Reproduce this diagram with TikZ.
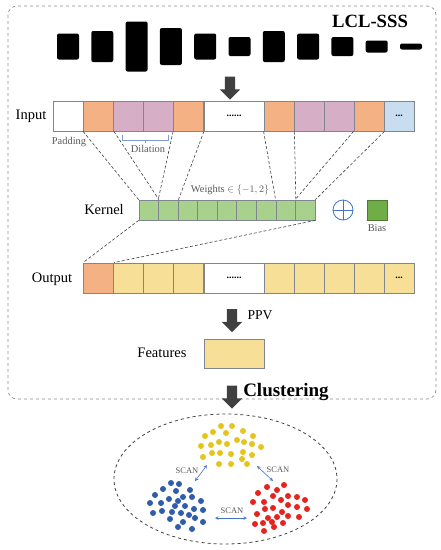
\documentclass[tikz,border=0pt]{standalone}
\usepackage{fontspec}
\setmainfont{Liberation Serif}
\usepackage{amsmath, amssymb}
\usepackage{xcolor}
\usepackage{tikz}
\usetikzlibrary{shapes, arrows, positioning, calc}

\definecolor{inorange}{HTML}{F4B183}
\definecolor{inpink}{HTML}{D6AEC6}
\definecolor{inblue}{HTML}{C9DDF0}
\definecolor{kgreen}{HTML}{A9D18E}
\definecolor{biasgreen}{HTML}{70AD47}
\definecolor{outyellow}{HTML}{F8DF98}
\definecolor{cellline}{HTML}{7F8690}
\definecolor{arrowgray}{HTML}{404040}
\definecolor{labelgray}{HTML}{595959}
\definecolor{scanblue}{HTML}{4472C4}
\definecolor{ydot}{HTML}{E5C51C}
\definecolor{bdot}{HTML}{2F5DAA}
\definecolor{rdot}{HTML}{E52420}

\begin{document}
\begin{tikzpicture}[x=1pt,y=-1pt,>=stealth,
            cell/.style={draw=cellline, line width=0.8pt, inner sep=0pt, minimum width=30, minimum height=30, font=\bfseries\fontsize{10}{12}\selectfont},
            kcell/.style={draw=cellline, line width=0.7pt, fill=kgreen, inner sep=0pt, minimum width=19.56, minimum height=20},
            bar/.style={fill=black, rounded corners=2pt, inner sep=0pt, minimum width=22},
            bigarrow/.style={single arrow, fill=arrowgray, inner sep=5pt, single arrow head extend=5pt, single arrow head indent=0pt, minimum height=23, rotate=-90},
            lab/.style={font=\fontsize{14.5}{17}\selectfont},
            small/.style={text=labelgray, font=\fontsize{10.4}{12}\selectfont},
            link/.style={densely dashed, draw=arrowgray, line width=0.6pt},
            scan/.style={<->, draw=scanblue, line width=0.6pt}]
            \useasboundingbox (0,0) rectangle (441,550);

            \draw[dashed, draw=labelgray!70, line width=0.7pt, rounded corners=9pt] (8,6) rectangle (436,399);

            \node[font=\bfseries\fontsize{18.7}{22}\selectfont] (title) at (370,21) {LCL-SSS};
            \foreach \h [count=\i] in {26,31,50,37,26,19,31,26,19,12,6}
                \node[bar, minimum height=\h] (b\i) at ({68+34.3*(\i-1)},46.5) {};

            \node[bigarrow] (arr1) at (230,85.5) {};

            \node[lab] (inlab) at (31,116) {Input};
            \node[cell] (in1) at (68,116) {};
            \node[cell, fill=inorange] (in2) at (98.5,116) {};
            \node[cell, fill=inpink] (in3) at (128.5,116) {};
            \node[cell, fill=inpink] (in4) at (158.5,116) {};
            \node[cell, fill=inorange] (in5) at (188.5,116) {};
            \node[cell, minimum width=60] (in6) at (234,116) {......};
            \node[cell, fill=inorange] (in7) at (279,116) {};
            \node[cell, fill=inpink] (in8) at (309,116) {};
            \node[cell, fill=inpink] (in9) at (339,116) {};
            \node[cell, fill=inorange] (in10) at (369,116) {};
            \node[cell, fill=inblue] (in11) at (399,116) {...};

            \node[small] (pad) at (69,142) {Padding};
            \draw[draw=scanblue!70, line width=0.7pt] (122,135) -- (122,140) -- (168,140) -- (168,135) (145,140) -- (145,143);
            \node[small] (dil) at (148,149) {Dilation};

            \node[lab] (klab) at (104,210) {Kernel};
            \foreach \i in {1,...,9}
                \node[kcell] (k\i) at ({139+19.56*(\i-0.5)},210) {};
            \node[small] (wts) at (230,190) {Weights $\in\{-1,2\}$};
            \node[circle, draw=scanblue, line width=0.8pt, minimum size=20, inner sep=0pt] (plus) at (343,210) {};
            \draw[draw=scanblue, line width=0.8pt] (plus.north) -- (plus.south) (plus.west) -- (plus.east);
            \node[draw=biasgreen!70!black, line width=0.6pt, fill=biasgreen, inner sep=0pt, minimum size=20] (bias) at (377,210) {};
            \node[small, below=1pt of bias] (biaslab) {Bias};

            \draw[link] (in2.south west) -- (k1.north west);
            \draw[link] (in2.south east) -- (k1.north east);
            \draw[link] (in5.south west) -- (k2.north west);
            \draw[link] (in5.south east) -- (k2.north east);
            \draw[link] (in7.south west) -- (k8.north west);
            \draw[link] (in7.south east) -- (k8.north east);
            \draw[link] (in10.south west) -- (k9.north west);
            \draw[link] (in10.south east) -- (k9.north east);

            \node[lab] (outlab) at (52,279) {Output};
            \node[cell, fill=inorange] (out1) at (98.5,278) {};
            \node[cell, fill=outyellow] (out2) at (128.5,278) {};
            \node[cell, fill=outyellow] (out3) at (158.5,278) {};
            \node[cell, fill=outyellow] (out4) at (188.5,278) {};
            \node[cell, minimum width=60] (out5) at (234,278) {......};
            \node[cell, fill=outyellow] (out6) at (279,278) {};
            \node[cell, fill=outyellow] (out7) at (309,278) {};
            \node[cell, fill=outyellow] (out8) at (339,278) {};
            \node[cell, fill=outyellow] (out9) at (369,278) {};
            \node[cell, fill=outyellow] (out10) at (399,278) {...};

            \draw[link] (k1.south west) -- (out1.north west);
            \draw[link] (k9.south east) -- (out1.north east);

            \node[bigarrow] (arr2) at (232,318) {};
            \node[font=\fontsize{13.6}{16}\selectfont] (ppv) at (260,315) {PPV};
            \node[lab] (featlab) at (162,353) {Features};
            \node[cell, fill=outyellow, minimum width=60, minimum height=29] (feat) at (234,353.5) {};

            \node[bigarrow] (arr3) at (232,394.5) {};
            \node[font=\bfseries\fontsize{19}{22}\selectfont] (clus) at (286,392) {Clustering};

            \draw[dashed, draw=arrowgray, line width=0.8pt] (225.5,479) ellipse (111.5 and 65);

            \foreach \x/\y in {221/426,232/426,205/436,213/432,226/433,243/431,253/436,201/446,211/445,219/442,227/444,237/440,244/442,252/444,261/447,203/457,212/453,220/453,231/454,243/452,252/455,219/464,231/464,242/459,247/464}
                \fill[ydot] (\x,\y) circle (3);
            \foreach \x/\y in {171/483,179/484,163/489,176/491,190/490,155/495,169/499,178/501,183/497,192/497,201/501,150/503,161/503,175/506,185/506,194/509,203/510,153/513,162/511,172/512,181/513,189/515,170/519,183/522,195/518,203/522,178/527,192/529}
                \fill[bdot] (\x,\y) circle (3);
            \foreach \x/\y in {267/487,277/490,284/485,258/493,273/496,288/496,297/497,253/502,264/502,281/500,305/500,288/505,297/507,307/509,265/509,273/508,282/512,257/514,268/518,277/517,288/516,299/517,255/524,263/523,272/522,283/523,274/527,264/531}
                \fill[rdot] (\x,\y) circle (3);

            \coordinate (sb) at (195,481);
            \coordinate (sy1) at (207,465);
            \coordinate (sy2) at (257,466);
            \coordinate (sr1) at (273,481);
            \coordinate (sb2) at (215,518);
            \coordinate (sr2) at (247,518);
            \draw[scan] (sb) -- (sy1);
            \draw[scan] (sy2) -- (sr1);
            \draw[scan] (sb2) -- (sr2);
            \node[text=labelgray, font=\fontsize{8.5}{10}\selectfont] (scan1) at (187,471) {SCAN};
            \node[text=labelgray, font=\fontsize{8.5}{10}\selectfont] (scan2) at (278,470) {SCAN};
            \node[text=labelgray, font=\fontsize{8.5}{10}\selectfont] (scan3) at (232,511) {SCAN};
        \end{tikzpicture}
\end{document}
